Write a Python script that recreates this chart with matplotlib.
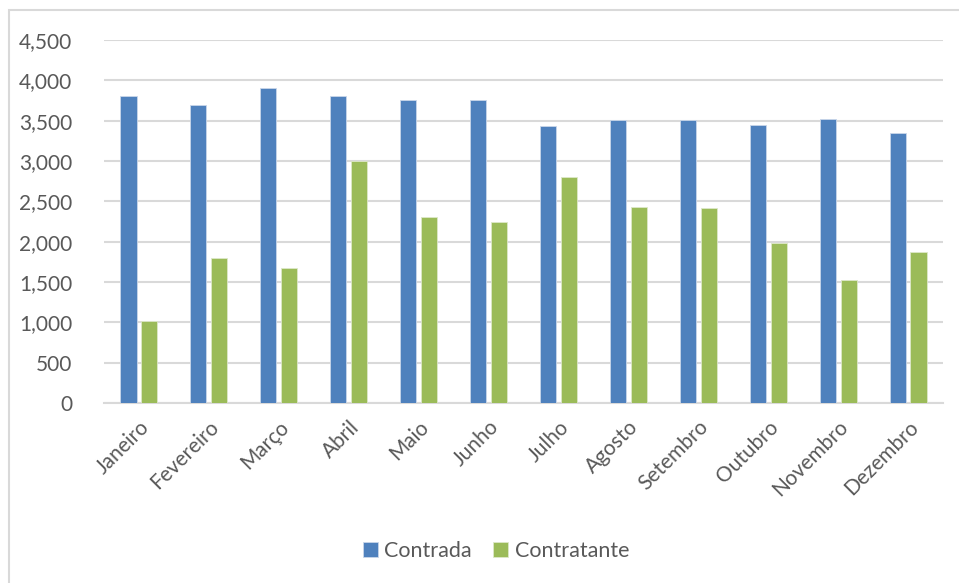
import matplotlib.pyplot as plt
import numpy as np
from matplotlib.patches import Rectangle

plt.rcParams['font.family'] = ['Lato', 'DejaVu Sans']

meses = ["Janeiro", "Fevereiro", "Março", "Abril", "Maio", "Junho",
         "Julho", "Agosto", "Setembro", "Outubro", "Novembro", "Dezembro"]
contrada = [3800, 3700, 3910, 3810, 3760, 3760, 3430, 3510, 3510, 3450, 3520, 3350]
contratante = [1020, 1800, 1670, 3000, 2300, 2250, 2800, 2430, 2420, 1980, 1530, 1870]

azul = "#4F81BD"
verde = "#9BBB59"
cinza = "#595959"

fig = plt.figure(figsize=(9.59, 5.83), dpi=100)
ax = fig.add_axes([104/959, 1 - 403/583, (943 - 104)/959, (403 - 40)/583])

# moldura do grafico (so aparecem as bordas de cima e da esquerda)
fig.patches.append(Rectangle((9/959, -0.1), 1.2, 1 - 10/583 + 0.1, transform=fig.transFigure,
                             fill=False, edgecolor="#D9D9D9", linewidth=1.5))

x = np.arange(len(meses))
w = 0.23
gap = 0.07
ax.bar(x - (w + gap)/2, contrada, w, color=azul, edgecolor="#C9D6EA", linewidth=0.6,
       label="Contrada", zorder=3)
ax.bar(x + (w + gap)/2, contratante, w, color=verde, edgecolor="#DDE8C9", linewidth=0.6,
       label="Contratante", zorder=3)

ax.set_xlim(-0.5, len(meses) - 0.5)
ax.set_ylim(0, 4500)
ax.set_yticks(np.arange(0, 4501, 500))
ax.set_yticklabels([f"{v:,}" for v in range(0, 4501, 500)])
ax.yaxis.grid(True, color="#D9D9D9", linewidth=1.5, zorder=0)
ax.set_axisbelow(True)

ax.set_xticks(x)
ax.set_xticklabels(meses, rotation=45, ha="right", va="top", rotation_mode="anchor")
for s in ["top", "right", "left"]:
    ax.spines[s].set_visible(False)
ax.spines["bottom"].set_color("#D9D9D9")
ax.spines["bottom"].set_linewidth(1.5)
ax.tick_params(axis="both", length=0, colors=cinza, labelsize=15)
ax.tick_params(axis="y", pad=23)
ax.tick_params(axis="x", pad=10)

leg = fig.legend(loc="center", bbox_to_anchor=(496/959, 1 - 551/583), ncol=2, frameon=False,
                 fontsize=15.5, handlelength=0.7, handleheight=0.7, handletextpad=0.3,
                 columnspacing=1.0)
for t in leg.get_texts():
    t.set_color(cinza)

fig.savefig("out.png", dpi=100, facecolor="white")
